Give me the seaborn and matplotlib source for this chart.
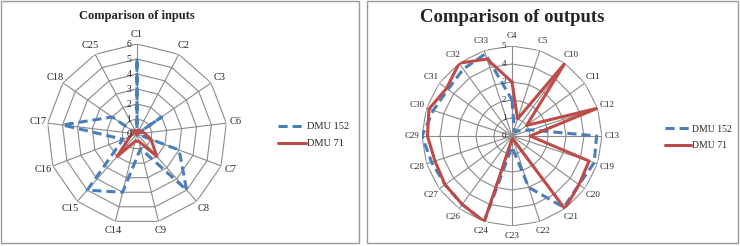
import numpy as np
import matplotlib
matplotlib.use("Agg")
import matplotlib.pyplot as plt
from matplotlib.patches import Rectangle
import seaborn as sns

# ---- data ----
in_cats = ["C1", "C2", "C3", "C6", "C7", "C8", "C9", "C14", "C15", "C16", "C17", "C18", "C25"]
in_dmu152 = [5, 0, 2, 0, 3, 5, 1, 4, 5, 1, 5, 2, 0]
in_dmu71 = [0, 0.3, 0.3, 0.5, 1, 2, 0.5, 0.5, 2, 0.5, 0.3, 0.3, 0.3]
in_ticks = [0, 1, 2, 3, 4, 5, 6]

out_cats = ["C4", "C5", "C10", "C11", "C12", "C13", "C19", "C20", "C21", "C22",
            "C23", "C24", "C26", "C27", "C28", "C29", "C30", "C31", "C32", "C33"]
out_dmu152 = [2, 0.4, 0.3, 0.5, 1.1, 4.7, 4.8, 4.6, 4.9, 3,
              0.6, 5, 4.7, 4.6, 4.7, 5, 4.6, 4.4, 4.6, 4.8]
out_dmu71 = [3, 1, 5, 1, 5, 1, 4.5, 4.6, 5, 0.2,
             0.2, 5, 4.7, 4.6, 4.5, 4.7, 4.85, 4.5, 5, 4.5]
out_ticks = [0, 1, 2, 3, 4, 5]

series_names = ["DMU 152", "DMU 71"]
BLUE = "#4a7ebb"
RED = "#be4b48"
GRID = "#8a8a8a"

sns.set_style("white")
plt.rcParams["font.family"] = ["Liberation Serif", "DejaVu Serif"]

fig = plt.figure(figsize=(7.4, 2.46), dpi=100)


def radar(rect, cats, s1, s2, ticks, title, title_size, lab_size, num_size,
          leg_xy, leg_size, title_y):
    ax = fig.add_axes(rect, projection="polar")
    ax.set_theta_zero_location("N")
    ax.set_theta_direction(-1)
    rmax = ticks[-1]
    n = len(cats)
    theta = np.linspace(0, 2 * np.pi, n, endpoint=False)
    closed = np.append(theta, 2 * np.pi)

    # polygon grid
    for t in ticks[1:]:
        ax.plot(closed, [t] * (n + 1), color=GRID, lw=0.8, zorder=1)
    for th in theta:
        ax.plot([th, th], [0, rmax], color=GRID, lw=0.8, zorder=1)

    sns.lineplot(x=closed, y=np.append(s1, s1[0]), sort=False, estimator=None,
                 ax=ax, color=BLUE, lw=2.2, linestyle=(0, (3, 1.6)), zorder=3)
    sns.lineplot(x=closed, y=np.append(s2, s2[0]), sort=False, estimator=None,
                 ax=ax, color=RED, lw=2.2, zorder=4)
    lines = ax.get_lines()[-2:]

    ax.set_ylim(0, rmax)
    ax.grid(False)
    ax.set_xticks([])
    ax.set_yticks([])
    ax.spines["polar"].set_visible(False)
    ax.set_facecolor("none")

    for th, c in zip(theta, cats):
        ax.text(th, rmax * 1.11, c, ha="center", va="center", fontsize=lab_size,
                clip_on=False)
    for t in ticks:
        ax.annotate(str(t), xy=(0, t), xytext=(-4, 0), textcoords="offset points",
                    ha="right", va="center", fontsize=num_size, zorder=5)

    fig.text(rect[0] + rect[2] / 2, title_y, title, ha="center", va="center",
             fontsize=title_size, fontweight="bold")

    ax.legend(lines, series_names, loc="center left", bbox_to_anchor=leg_xy,
              bbox_transform=fig.transFigure, frameon=False, fontsize=leg_size,
              borderpad=0, borderaxespad=0, handlelength=2.7, handletextpad=0.1,
              labelspacing=0.75)
    return ax


radar([0.0635, 0.0894, 0.2432, 0.7317], in_cats, in_dmu152, in_dmu71, in_ticks,
      "Comparison of inputs", 9, 7.5, 7, (0.376, 0.451), 7.5, 1 - 16 / 246)
radar([0.5703, 0.0813, 0.2432, 0.7317], out_cats, out_dmu152, out_dmu71, out_ticks,
      "Comparison of outputs", 13.5, 6.5, 6.5, (0.898, 0.441), 7, 1 - 18 / 246)

# panel frames
fig.patches.append(Rectangle((1 / 740, 3 / 246), 358 / 740, 242 / 246,
                             transform=fig.transFigure, fill=False,
                             edgecolor="#9a9a9a", lw=1))
fig.patches.append(Rectangle((367 / 740, 3 / 246), 371 / 740, 242 / 246,
                             transform=fig.transFigure, fill=False,
                             edgecolor="#9a9a9a", lw=1))

fig.savefig("out.png", dpi=100)
plt.close()
